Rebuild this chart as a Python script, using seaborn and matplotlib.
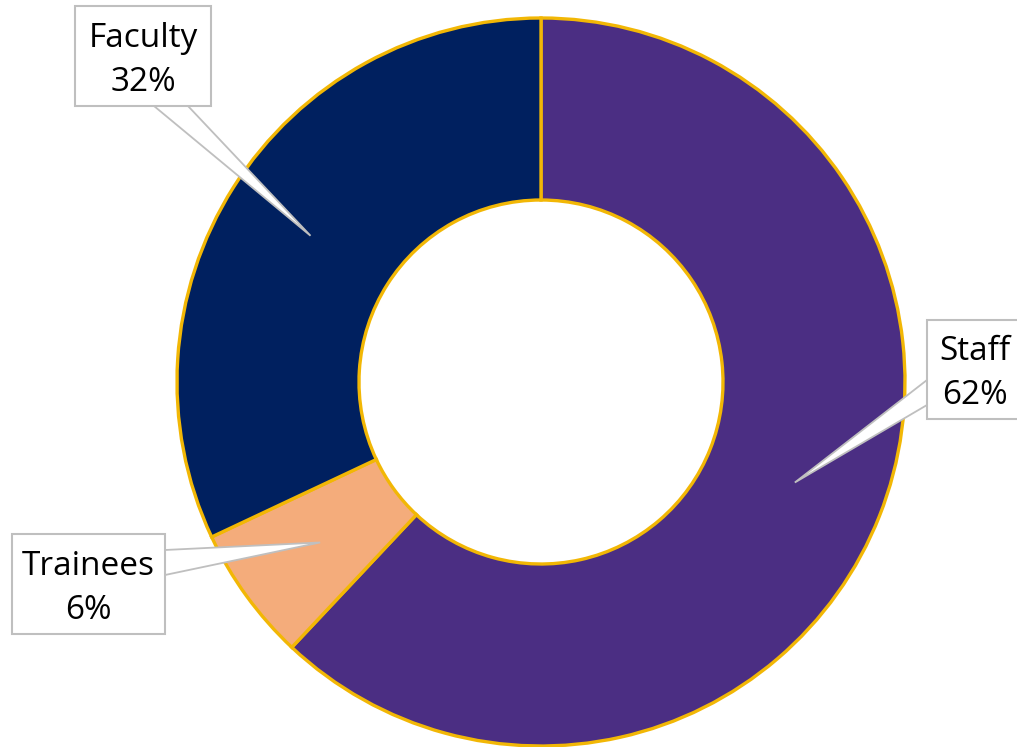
import numpy as np
import matplotlib
matplotlib.use("Agg")
import matplotlib.pyplot as plt
from matplotlib.patches import Rectangle, Polygon
import seaborn as sns

# ---- data ----
categories = ["Staff", "Trainees", "Faculty"]
shares = [62, 6, 32]
colors = ["#4B2E83", "#F4AC7B", "#00205F"]

sns.set_theme(style="white")
plt.rcParams['font.family'] = ['Open Sans', 'DejaVu Sans']

W, H = 1017, 747
fig = plt.figure(figsize=(W / 100, H / 100), dpi=100)
ax = fig.add_axes([0, 0, 1, 1])

cx, cy = 541, H - 382
R, ring = 364, 182
wedges, _ = ax.pie(shares, colors=colors, startangle=90, counterclock=False,
                   radius=R, center=(cx, cy),
                   wedgeprops=dict(width=ring, edgecolor="#F2B705", linewidth=2.4))
ax.set_xlim(0, W)
ax.set_ylim(0, H)
ax.set_aspect('equal')
ax.axis('off')

# label boxes (pixel coords, y down): x0, y0, x1, y1 ; pointer base points
boxes = {
    "Faculty": ((75, 6, 211, 106), [(154, 106), (188, 106)]),
    "Trainees": ((12, 534, 165, 634), [(165, 550), (165, 575)]),
    "Staff": ((927, 320, 1022, 419), [(927, 380), (927, 405)]),
}

for w, name, val in zip(wedges, categories, shares):
    mid = np.deg2rad((w.theta1 + w.theta2) / 2)
    rt = R - ring / 2
    tip = (cx + rt * np.cos(mid), cy + rt * np.sin(mid))
    (x0, y0, x1, y1), base = boxes[name]
    pts = [(base[0][0], H - base[0][1]), tip, (base[1][0], H - base[1][1])]
    ax.add_patch(Polygon(pts, closed=True, facecolor="white", edgecolor="#BFBFBF",
                         linewidth=1.3, zorder=5, joinstyle='miter'))
    ax.add_patch(Rectangle((x0, H - y1), x1 - x0, y1 - y0, facecolor="white",
                           edgecolor="#BFBFBF", linewidth=1.5, zorder=6))
    bx = (x0 + min(x1, W + 5)) / 2
    mcy = (y0 + y1) / 2
    ax.text(bx, H - (mcy - 9), name, ha='center', va='baseline', fontsize=24,
            color='black', zorder=7)
    ax.text(bx, H - (mcy + 35), f"{val}%", ha='center', va='baseline', fontsize=24,
            color='black', zorder=7)

fig.savefig("out.png", dpi=100)
